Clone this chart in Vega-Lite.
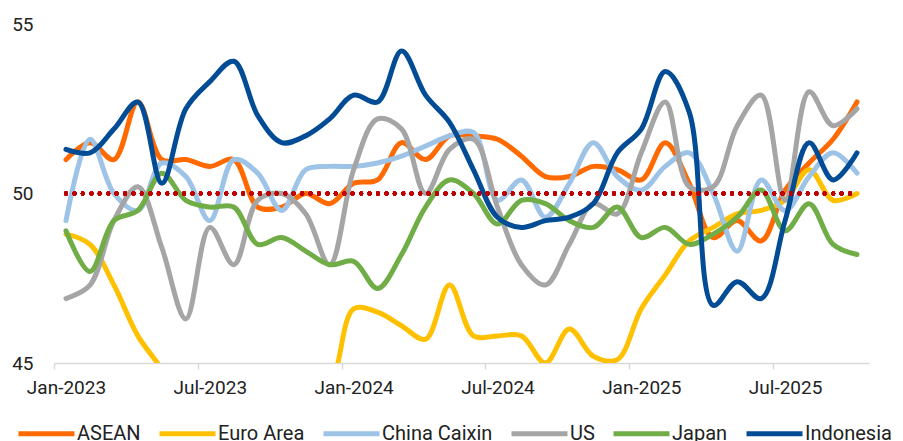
{
  "$schema": "https://vega.github.io/schema/vega-lite/v6.json",
  "width": 815,
  "height": 339,
  "autosize": "none",
  "padding": {"left": 54, "top": 24, "right": 34, "bottom": 78},
  "background": "white",
  "config": {
    "view": {"stroke": null},
    "font": "Roboto",
    "axis": {"labelFont": "Roboto", "labelColor": "#222222", "labelFontSize": 19, "grid": false, "title": null},
    "legend": {"labelFont": "Roboto", "labelColor": "#222222", "labelFontSize": 20}
  },
  "datasets": {
    "pmi": [
      {"month": "Jan-2023", "ASEAN": 51.0, "Euro Area": 48.8, "China Caixin": 49.2, "US": 46.9, "Japan": 48.9, "Indonesia": 51.3},
      {"month": "Feb-2023", "ASEAN": 51.5, "Euro Area": 48.5, "China Caixin": 51.6, "US": 47.3, "Japan": 47.7, "Indonesia": 51.2},
      {"month": "Mar-2023", "ASEAN": 51.0, "Euro Area": 47.3, "China Caixin": 50.0, "US": 49.2, "Japan": 49.2, "Indonesia": 51.9},
      {"month": "Apr-2023", "ASEAN": 52.7, "Euro Area": 45.8, "China Caixin": 49.5, "US": 50.2, "Japan": 49.5, "Indonesia": 52.7},
      {"month": "May-2023", "ASEAN": 51.0, "Euro Area": 44.8, "China Caixin": 50.9, "US": 48.4, "Japan": 50.6, "Indonesia": 50.3},
      {"month": "Jun-2023", "ASEAN": 51.0, "Euro Area": 43.4, "China Caixin": 50.5, "US": 46.3, "Japan": 49.8, "Indonesia": 52.5},
      {"month": "Jul-2023", "ASEAN": 50.8, "Euro Area": 42.7, "China Caixin": 49.2, "US": 49.0, "Japan": 49.6, "Indonesia": 53.3},
      {"month": "Aug-2023", "ASEAN": 51.0, "Euro Area": 43.5, "China Caixin": 51.0, "US": 47.9, "Japan": 49.6, "Indonesia": 53.9},
      {"month": "Sep-2023", "ASEAN": 49.6, "Euro Area": 43.4, "China Caixin": 50.6, "US": 49.8, "Japan": 48.5, "Indonesia": 52.3},
      {"month": "Oct-2023", "ASEAN": 49.6, "Euro Area": 43.1, "China Caixin": 49.5, "US": 50.0, "Japan": 48.7, "Indonesia": 51.5},
      {"month": "Nov-2023", "ASEAN": 50.0, "Euro Area": 44.2, "China Caixin": 50.7, "US": 49.4, "Japan": 48.3, "Indonesia": 51.7},
      {"month": "Dec-2023", "ASEAN": 49.7, "Euro Area": 44.4, "China Caixin": 50.8, "US": 47.9, "Japan": 47.9, "Indonesia": 52.2},
      {"month": "Jan-2024", "ASEAN": 50.3, "Euro Area": 46.6, "China Caixin": 50.8, "US": 50.7, "Japan": 48.0, "Indonesia": 52.9},
      {"month": "Feb-2024", "ASEAN": 50.4, "Euro Area": 46.5, "China Caixin": 50.9, "US": 52.2, "Japan": 47.2, "Indonesia": 52.7},
      {"month": "Mar-2024", "ASEAN": 51.5, "Euro Area": 46.1, "China Caixin": 51.1, "US": 51.9, "Japan": 48.2, "Indonesia": 54.2},
      {"month": "Apr-2024", "ASEAN": 51.0, "Euro Area": 45.7, "China Caixin": 51.4, "US": 50.0, "Japan": 49.6, "Indonesia": 52.9},
      {"month": "May-2024", "ASEAN": 51.7, "Euro Area": 47.3, "China Caixin": 51.7, "US": 51.3, "Japan": 50.4, "Indonesia": 52.1},
      {"month": "Jun-2024", "ASEAN": 51.7, "Euro Area": 45.8, "China Caixin": 51.8, "US": 51.6, "Japan": 50.0, "Indonesia": 50.7},
      {"month": "Jul-2024", "ASEAN": 51.6, "Euro Area": 45.8, "China Caixin": 49.8, "US": 49.6, "Japan": 49.1, "Indonesia": 49.3},
      {"month": "Aug-2024", "ASEAN": 51.1, "Euro Area": 45.8, "China Caixin": 50.4, "US": 47.9, "Japan": 49.8, "Indonesia": 49.0},
      {"month": "Sep-2024", "ASEAN": 50.5, "Euro Area": 45.0, "China Caixin": 49.3, "US": 47.3, "Japan": 49.7, "Indonesia": 49.2},
      {"month": "Oct-2024", "ASEAN": 50.5, "Euro Area": 46.0, "China Caixin": 50.3, "US": 48.5, "Japan": 49.2, "Indonesia": 49.3},
      {"month": "Nov-2024", "ASEAN": 50.8, "Euro Area": 45.2, "China Caixin": 51.5, "US": 49.7, "Japan": 49.0, "Indonesia": 49.7},
      {"month": "Dec-2024", "ASEAN": 50.7, "Euro Area": 45.1, "China Caixin": 50.5, "US": 49.4, "Japan": 49.6, "Indonesia": 51.2},
      {"month": "Jan-2025", "ASEAN": 50.4, "Euro Area": 46.6, "China Caixin": 50.1, "US": 51.2, "Japan": 48.7, "Indonesia": 51.9},
      {"month": "Feb-2025", "ASEAN": 51.5, "Euro Area": 47.6, "China Caixin": 50.8, "US": 52.7, "Japan": 49.0, "Indonesia": 53.6},
      {"month": "Mar-2025", "ASEAN": 50.3, "Euro Area": 48.6, "China Caixin": 51.2, "US": 50.2, "Japan": 48.5, "Indonesia": 52.4},
      {"month": "Apr-2025", "ASEAN": 48.7, "Euro Area": 49.0, "China Caixin": 50.0, "US": 50.2, "Japan": 48.8, "Indonesia": 46.7},
      {"month": "May-2025", "ASEAN": 49.2, "Euro Area": 49.4, "China Caixin": 48.3, "US": 52.0, "Japan": 49.3, "Indonesia": 47.4},
      {"month": "Jun-2025", "ASEAN": 48.6, "Euro Area": 49.5, "China Caixin": 50.4, "US": 52.9, "Japan": 50.1, "Indonesia": 46.9},
      {"month": "Jul-2025", "ASEAN": 50.1, "Euro Area": 49.8, "China Caixin": 49.5, "US": 49.8, "Japan": 48.9, "Indonesia": 49.2},
      {"month": "Aug-2025", "ASEAN": 50.9, "Euro Area": 50.7, "China Caixin": 50.5, "US": 53.0, "Japan": 49.7, "Indonesia": 51.5},
      {"month": "Sep-2025", "ASEAN": 51.6, "Euro Area": 49.8, "China Caixin": 51.2, "US": 52.0, "Japan": 48.5, "Indonesia": 50.4},
      {"month": "Oct-2025", "ASEAN": 52.7, "Euro Area": 50.0, "China Caixin": 50.6, "US": 52.5, "Japan": 48.2, "Indonesia": 51.2}
    ]
  },
  "data": {"name": "pmi"},
  "layer": [
    {
      "transform": [
        {"fold": ["ASEAN", "Euro Area", "China Caixin", "US", "Japan", "Indonesia"], "as": ["series", "value"]}
      ],
      "mark": {"type": "line", "interpolate": "catmull-rom", "strokeWidth": 5, "clip": true, "strokeCap": "round", "strokeJoin": "round"},
      "encoding": {
        "x": {
          "field": "month", "type": "ordinal", "sort": null,
          "scale": {"type": "point", "padding": 0.5},
          "axis": {
            "values": ["Jan-2023", "Jul-2023", "Jan-2024", "Jul-2024", "Jan-2025", "Jul-2025"],
            "labelAngle": 0,
            "domainColor": "#D9D9D9", "domainWidth": 1.5,
            "tickColor": "#D9D9D9", "tickWidth": 1.5, "tickSize": 6,
            "tickOffset": -12, "labelOffset": 12, "labelPadding": 9
          }
        },
        "y": {
          "field": "value", "type": "quantitative",
          "scale": {"domain": [45, 55], "nice": false, "zero": false},
          "axis": {"values": [45, 50, 55], "domain": false, "ticks": false, "labelPadding": 21}
        },
        "color": {
          "field": "series", "type": "nominal",
          "scale": {
            "domain": ["ASEAN", "Euro Area", "China Caixin", "US", "Japan", "Indonesia"],
            "range": ["#FF6A00", "#FFC000", "#9DC3E6", "#A5A5A5", "#70AD47", "#024C96"]
          },
          "legend": {
            "title": null, "orient": "none", "direction": "horizontal",
            "legendX": -38, "legendY": 379,
            "symbolType": "stroke", "symbolSize": 3136, "symbolStrokeWidth": 5,
            "labelOffset": 0, "columnPadding": 8
          }
        }
      }
    },
    {
      "mark": {"type": "rule", "color": "#C00000", "strokeWidth": 4, "strokeDash": [0.1, 8.33], "strokeCap": "round"},
      "encoding": {
        "x": {"datum": "Jan-2023"},
        "x2": {"datum": "Oct-2025"},
        "y": {"datum": 50}
      }
    }
  ]
}
